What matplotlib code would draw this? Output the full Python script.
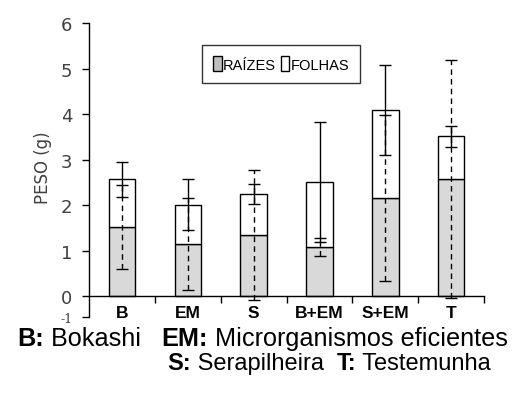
import matplotlib.pyplot as plt
import numpy as np
from matplotlib.patches import Patch
from matplotlib.text import Annotation

# data
categories = ["B", "EM", "S", "B+EM", "S+EM", "T"]
raizes = [1.52, 1.15, 1.35, 1.08, 2.17, 2.57]
raizes_err = [0.92, 1.01, 1.43, 0.20, 1.82, 2.61]
total = [2.57, 2.01, 2.25, 2.51, 4.09, 3.51]
total_err = [0.38, 0.56, 0.22, 1.31, 0.98, 0.22]
folhas = [t - r for t, r in zip(total, raizes)]

caption1 = [("B:", "bold"), (" Bokashi   ", "normal"), ("EM:", "bold"),
            (" Microrganismos eficientes", "normal")]
caption2 = [("S:", "bold"), (" Serapilheira  ", "normal"), ("T:", "bold"),
            (" Testemunha", "normal")]

fig = plt.figure(figsize=(5.22, 4.10), dpi=100)
ax = fig.add_axes([0.1705, 0.2244, 0.757, 0.7171])

x = np.arange(len(categories))
width = 0.4

ax.bar(x, raizes, width, color="#d9d9d9", edgecolor="black", linewidth=1, zorder=2)
ax.bar(x, folhas, width, bottom=raizes, color="white", edgecolor="black", linewidth=1, zorder=2)

# roots error (dashed), total error (solid)
eb1 = ax.errorbar(x, raizes, yerr=raizes_err, fmt="none", ecolor="black",
                  elinewidth=1, capsize=4, capthick=1, zorder=3)
eb1[2][0].set_linestyle((0, (4, 3)))
ax.errorbar(x, total, yerr=total_err, fmt="none", ecolor="black",
            elinewidth=1, capsize=4, capthick=1, zorder=4)

ax.set_xlim(-0.5, 5.5)
ax.set_ylim(-0.45, 6)

for s in ["top", "right"]:
    ax.spines[s].set_visible(False)
ax.spines["bottom"].set_position(("data", 0))
ax.spines["left"].set_linewidth(1)
ax.spines["bottom"].set_linewidth(1)

# y ticks (the "-1" sits at the cut-off bottom of the axis, as in the source)
ax.set_yticks([-0.45, 0, 1, 2, 3, 4, 5, 6])
ax.set_yticklabels(["-1", "0", "1", "2", "3", "4", "5", "6"])
for lbl in ax.get_yticklabels():
    lbl.set_fontsize(13)
    lbl.set_color("#404040")
ax.get_yticklabels()[0].set_fontsize(9)
ax.get_yticklabels()[0].set_family("DejaVu Serif")
ax.tick_params(axis="y", direction="out", length=5, width=1, pad=7)

# x ticks: marks at boundaries, labels at centers
ax.set_xticks(np.arange(0.5, 5.6, 1.0))
ax.set_xticklabels([])
ax.tick_params(axis="x", which="major", direction="out", length=5, width=1)
ax.set_xticks(x, minor=True)
ax.set_xticklabels(categories, minor=True, fontsize=12.5, fontweight="bold",
                   family="Liberation Sans")
ax.tick_params(axis="x", which="minor", length=0, pad=6)

ax.set_ylabel("PESO (g)", fontsize=12, color="#404040")
ax.yaxis.set_label_coords(-0.094, 0.51)

handles = [Patch(facecolor="#bfbfbf", edgecolor="black", linewidth=1),
           Patch(facecolor="white", edgecolor="black", linewidth=1)]
leg = ax.legend(handles, ["RAÍZES", "FOLHAS"], loc="upper left",
                bbox_to_anchor=(0.286, 0.925), borderaxespad=0, ncol=2,
                frameon=True, fancybox=False, handlelength=0.6, handleheight=1.25,
                handletextpad=0.1, columnspacing=0.3, borderpad=0.75,
                prop={"family": "Liberation Sans", "size": 10.5})
leg.get_frame().set_edgecolor("black")
leg.get_frame().set_linewidth(1)


def caption(parts, x0, y0, size):
    # chain text pieces so bold and regular runs sit side by side
    prev = fig.text(x0, y0, parts[0][0], fontsize=size, fontweight=parts[0][1],
                    family="Liberation Sans", va="baseline", ha="left")
    for s, w in parts[1:]:
        prev = fig.add_artist(Annotation(
            s, xy=(1, 0), xycoords=prev, xytext=(0, 0), textcoords="offset points",
            fontsize=size, fontweight=w, family="Liberation Sans",
            va="bottom", ha="left"))


caption(caption1, 17 / 522, 1 - 346 / 410, 18.2)
caption(caption2, 167 / 522, 1 - 370 / 410, 17)

plt.savefig("out.png", dpi=100)
